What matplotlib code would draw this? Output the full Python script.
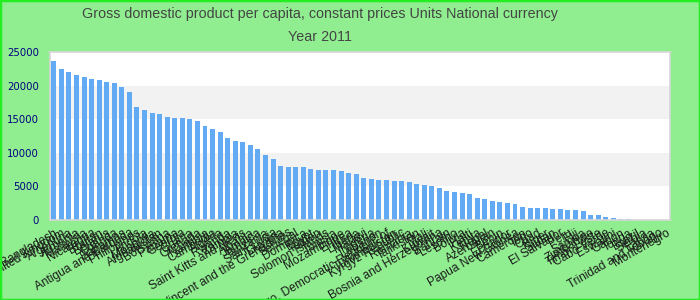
import matplotlib
matplotlib.use("Agg")
import matplotlib.pyplot as plt
from matplotlib.patches import Rectangle

countries = [
    "Bangladesh", "United Kingdom", "Argentina", "Armenia", "Malaysia", "Nicaragua",
    "Bhutan", "Belarus", "Uganda", "Bahamas", "Antigua and Barbuda", "Philippines",
    "Angola", "Mongolia", "Afghanistan", "Botswana", "Panama", "Georgia", "Ghana",
    "Grenada", "Namibia", "Cambodia", "Algeria", "Rwanda", "Zambia",
    "Saint Kitts and Nevis", "Albania", "Jamaica", "Tanzania", "Saint Lucia", "Guyana",
    "Saint Vincent and the Grenadines", "Senegal", "Dominica", "Egypt", "Yemen",
    "Solomon Islands", "Tunisia", "Mozambique", "Eritrea", "Liberia", "Malawi",
    "Nigeria", "Lebanon", "Congo, Democratic Republic of", "Turkmenistan",
    "Kyrgyz Republic", "Romania", "Tajikistan", "Mali", "Kuwait",
    "Bosnia and Herzegovina", "Bahrain", "Lesotho", "Bolivia", "Haiti", "Kenya",
    "Nepal", "Azerbaijan", "Benin", "Ecuador", "Papua New Guinea", "Cameroon",
    "Togo", "Chad", "Niger", "Sudan", "El Salvador", "Peru", "Fiji", "Samoa",
    "Zimbabwe", "Timor-Leste", "Cabo Verde", "Eswatini", "Gabon", "Tonga",
    "Brazil", "Serbia", "Latvia", "Trinidad and Tobago", "Montenegro",
]

values = [
    23660, 22470, 22020, 21580, 21280, 20980, 20830, 20540, 20390, 19790,
    19050, 16820, 16370, 15920, 15770, 15330, 15180, 15180, 15030, 14730,
    13990, 13540, 13100, 12200, 11760, 11610, 11160, 10570, 9670, 9080,
    8040, 7890, 7890, 7890, 7590, 7440, 7440, 7440, 7290, 6990,
    6850, 6250, 6100, 5950, 5950, 5800, 5800, 5650, 5360, 5210,
    5060, 4760, 4320, 4170, 4020, 3870, 3270, 3130, 2830, 2680,
    2530, 2380, 1930, 1790, 1790, 1790, 1640, 1640, 1490, 1490,
    1340, 740, 740, 450, 300, 150, 150, 0, 0, 0,
    0, 0,
]

yticks = [0, 5000, 10000, 15000, 20000, 25000]
title_line1 = "Gross domestic product per capita, constant prices Units National currency"
title_line2 = "Year 2011"

plt.rcParams['font.family'] = ['Liberation Sans', 'DejaVu Sans']

fig = plt.figure(figsize=(7, 3), dpi=100, facecolor='#90ee90')
ax = fig.add_axes([50/700, 1-220/300, 620/700, 168/300])
ax.set_facecolor('white')

# alternating bands
for i in range(len(yticks) - 1):
    if i % 2 == 1:
        ax.axhspan(yticks[i], yticks[i+1], color='#f2f2f2', zorder=0, lw=0)

x = list(range(len(countries)))
ax.bar(x, values, width=0.66, color='#63aaf4', zorder=2)

ax.set_xlim(-0.5, len(countries) - 0.5)
ax.set_ylim(0, 25000)
ax.set_yticks(yticks)
ax.set_yticklabels([str(v) for v in yticks], color='#000080', fontsize=7.3,
                   family=['DejaVu Sans'])
ax.set_xticks(x)
ax.set_xticklabels(countries, rotation=30, ha='right', rotation_mode='anchor',
                   fontsize=8.6, color='#1a1a1a')
ax.tick_params(axis='both', length=0)
ax.tick_params(axis='y', pad=8)
ax.tick_params(axis='x', pad=5)

for s in ax.spines.values():
    s.set_color('#d6d6d6')
    s.set_linewidth(1.2)

fig.text(320/700, 1-14/300, title_line1,
         ha='center', va='center', fontsize=10.3, color='#444444')
fig.text(320/700, 1-37/300, title_line2, ha='center', va='center', fontsize=10.3, color='#444444')

fig.patches.append(Rectangle((0, 0), 1, 1, transform=fig.transFigure, fill=False,
                             edgecolor='#22ee22', linewidth=2.5, zorder=10))

fig.savefig('out.png', dpi=100, facecolor=fig.get_facecolor())
